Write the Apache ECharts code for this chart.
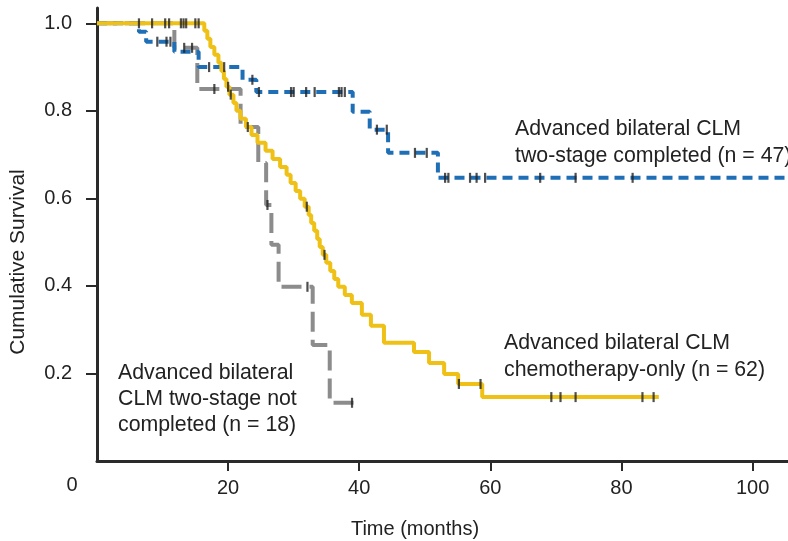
<!DOCTYPE html>
<html>
<head>
<meta charset="utf-8">
<script src="https://cdn.jsdelivr.net/npm/echarts@6/dist/echarts.min.js"></script>
<style>
  html, body { margin: 0; padding: 0; background: #fff; }
  #chart { width: 788px; height: 541px; }
</style>
</head>
<body>
<div id="chart"></div>
<script>
// Kaplan-Meier curves: event times (months) and survival after each step
const chemoTimes = [0, 16.37, 16.83, 17.29, 17.90, 18.52, 18.97, 19.36, 19.74, 20.20, 20.81, 21.27, 21.88, 22.72, 23.57, 24.48, 25.71, 26.78, 27.93, 28.92, 29.53, 30.30, 30.99, 31.68, 32.29, 32.67, 33.13, 33.59, 33.97, 34.43, 34.97, 35.58, 36.19, 36.80, 37.80, 38.87, 40.40, 41.78, 43.77, 48.35, 50.65, 52.95, 55.09, 58.76, 85.7];
const chemoSurv = [1.0, 0.983, 0.965, 0.946, 0.928, 0.910, 0.891, 0.873, 0.855, 0.837, 0.818, 0.800, 0.782, 0.763, 0.745, 0.727, 0.709, 0.690, 0.672, 0.654, 0.635, 0.617, 0.599, 0.581, 0.562, 0.544, 0.526, 0.507, 0.489, 0.471, 0.453, 0.434, 0.416, 0.398, 0.379, 0.361, 0.334, 0.309, 0.270, 0.249, 0.224, 0.199, 0.176, 0.146, 0.146];
const chemoCensor = [6.4, 8.4, 10.4, 11.0, 12.8, 13.2, 13.6, 15.0, 15.5, 20.0, 20.4, 32.0, 34.7, 55.2, 58.5, 69.3, 70.7, 73.0, 83.2, 84.9];

const doneTimes = [0, 6.4, 7.5, 11.8, 15.5, 22.2, 24.3, 39.0, 41.6, 44.4, 52.0, 105.4];
const doneSurv = [1.0, 0.981, 0.958, 0.935, 0.900, 0.871, 0.843, 0.798, 0.757, 0.704, 0.647, 0.647];
const doneCensor = [9.2, 10.6, 11.2, 17.1, 19.4, 23.7, 24.7, 29.6, 30.0, 31.9, 33.2, 36.9, 37.3, 37.8, 42.7, 44.2, 48.5, 50.3, 53.1, 53.6, 56.9, 57.9, 59.2, 67.6, 73.0, 81.7];

const notDoneTimes = [0, 11.8, 15.3, 21.9, 24.6, 25.8, 26.6, 27.7, 32.9, 35.5, 39.6];
const notDoneSurv = [1.0, 0.944, 0.85, 0.763, 0.681, 0.585, 0.494, 0.398, 0.265, 0.133, 0.133];
const notDoneCensor = [13.3, 14.5, 17.9, 23.0, 26.0, 32.1, 38.9];

const xTicks = [20, 40, 60, 80, 100];
const yTicks = [0.2, 0.4, 0.6, 0.8, 1.0];

const FONT = "'Liberation Sans', Arial, Helvetica, sans-serif";

// value of a step curve at time t
function survAt(times, surv, t) {
  let v = surv[0];
  for (let i = 0; i < times.length; i++) {
    if (times[i] <= t) v = surv[i];
  }
  return v;
}
const pairs = (times, surv) => times.map((t, i) => [t, surv[i]]);
const marks = (cens, times, surv) => cens.map(t => [t, survAt(times, surv, t)]);

const chart = echarts.init(document.getElementById('chart'));
chart.setOption({
  animation: false,
  grid: { left: 97, right: 0, top: 8, bottom: 80 },
  xAxis: {
    type: 'value', min: 0, max: 105.4,
    splitLine: { show: false },
    axisLine: { lineStyle: { color: '#2a2a2a', width: 3 } },
    axisTick: { customValues: xTicks, length: 10, lineStyle: { color: '#2a2a2a', width: 2 } },
    axisLabel: { customValues: xTicks, margin: 17, fontSize: 20, color: '#222', fontFamily: FONT }
  },
  yAxis: {
    type: 'value', min: 0, max: 1.035,
    splitLine: { show: false },
    axisLine: { show: true, lineStyle: { color: '#2a2a2a', width: 3 } },
    axisTick: { show: true, customValues: yTicks, length: 11, lineStyle: { color: '#2a2a2a', width: 2 } },
    axisLabel: {
      customValues: yTicks, margin: 25, fontSize: 20, color: '#222', fontFamily: FONT,
      formatter: v => v.toFixed(1)
    }
  },
  series: [
    {
      type: 'line', step: 'end', symbol: 'none', z: 2,
      data: pairs(notDoneTimes, notDoneSurv),
      lineStyle: { color: '#8c8c8c', width: 4, type: [20, 8] }
    },
    {
      type: 'line', step: 'end', symbol: 'none', z: 3,
      data: pairs(doneTimes, doneSurv),
      lineStyle: { color: '#1f6fb6', width: 4, type: [10, 6] }
    },
    {
      type: 'line', step: 'end', symbol: 'none', z: 4,
      data: pairs(chemoTimes, chemoSurv),
      lineStyle: { color: '#efc015', width: 4 }
    },
    {
      type: 'scatter', symbol: 'rect', symbolSize: [2.2, 10], z: 6,
      itemStyle: { color: '#222' },
      data: marks(notDoneCensor, notDoneTimes, notDoneSurv)
        .concat(marks(doneCensor, doneTimes, doneSurv))
        .concat(marks(chemoCensor, chemoTimes, chemoSurv))
    }
  ],
  graphic: [
    { type: 'text', x: 72, y: 485, style: { text: '0', font: '20px ' + FONT, fill: '#222', align: 'center', verticalAlign: 'middle' } },
    { type: 'text', x: 415, y: 529, style: { text: 'Time (months)', font: '20px ' + FONT, fill: '#222', align: 'center', verticalAlign: 'middle' } },
    { type: 'text', x: 18, y: 262, rotation: Math.PI / 2, style: { text: 'Cumulative Survival', font: '21px ' + FONT, fill: '#222', align: 'center', verticalAlign: 'middle' } },
    { type: 'text', x: 515, y: 116, style: { text: 'Advanced bilateral CLM\ntwo-stage completed (n = 47)', font: '21.3px ' + FONT, lineHeight: 27, fill: '#222', align: 'left', verticalAlign: 'top' } },
    { type: 'text', x: 504, y: 330, style: { text: 'Advanced bilateral CLM\nchemotherapy-only (n = 62)', font: '21.3px ' + FONT, lineHeight: 27, fill: '#222', align: 'left', verticalAlign: 'top' } },
    { type: 'text', x: 118, y: 360, style: { text: 'Advanced bilateral\nCLM two-stage not\ncompleted (n = 18)', font: '21.3px ' + FONT, lineHeight: 26, fill: '#222', align: 'left', verticalAlign: 'top' } }
  ]
});
</script>
</body>
</html>
